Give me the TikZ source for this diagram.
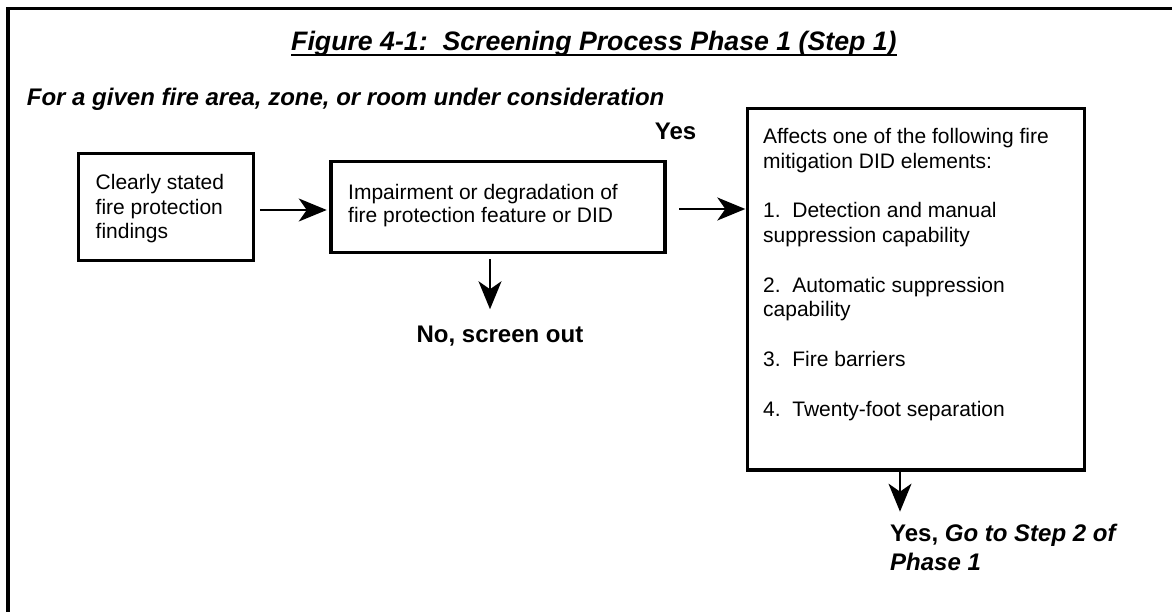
\documentclass[tikz,border=0pt]{standalone}
\usepackage{fontspec}
\setmainfont{Liberation Sans}
\usetikzlibrary{arrows.meta,calc}
\begin{document}
\begin{tikzpicture}[x=1pt,y=-1pt,
  bodytext/.style={align=left, inner sep=0pt, anchor=base west},
  lbl/.style={font=\fontsize{24}{28.3}\selectfont\bfseries, inner sep=0pt, anchor=base west},
  boxnode/.style={draw, line width=3.3pt, inner sep=0pt},
  flow/.style={line width=2pt, -{Stealth[length=28pt,width=23pt,inset=8pt]}}
]
\useasboundingbox (0,0) rectangle (1172,612);
\fill[white] (0,0) rectangle (1172,612);

% page frame, continuing past the right and bottom edges
\draw[line width=3.5pt, line join=miter] (8,640) -- (8,8.5) -- (1200,8.5);

% heading and scope line
\node[lbl, font=\fontsize{26.7}{30}\selectfont\bfseries\itshape] (title) at (291,50.5)
  {Figure 4-1:\ \ Screening Process Phase 1 (Step 1)};
\draw[line width=2.2pt] ([yshift=-4.5pt]title.base west) -- ([yshift=-4.5pt]title.base east);
\node[lbl, font=\fontsize{24}{28.3}\selectfont\bfseries\itshape] (scope) at (26.7,106)
  {For a given fire area, zone, or room under consideration};

% boxes
\node[boxnode, minimum width=175pt, minimum height=107.4pt] (b1) at (165.8,207) {};
\node[boxnode, minimum width=334pt, minimum height=90.6pt] (b2) at (498,207) {};
\node[boxnode, minimum width=336.7pt, minimum height=361.6pt] (b3) at (916,289.2) {};

% box texts (anchored at the baseline of their last line)
\node[bodytext, font=\fontsize{21}{24.2}\selectfont] (t1) at (95.5,238.4)
  {Clearly stated\\fire protection\\findings};
\node[bodytext, font=\fontsize{21}{23.4}\selectfont] (t2) at (348,222.7)
  {Impairment or degradation of\\fire protection feature or DID};
\node[bodytext, font=\fontsize{21}{24.8}\selectfont] (t3) at (763,416.1)
  {Affects one of the following fire\\mitigation DID elements:\\[24.8pt]
   1.\ \ Detection and manual\\suppression capability\\[24.8pt]
   2.\ \ Automatic suppression\\capability\\[24.8pt]
   3.\ \ Fire barriers\\[24.8pt]
   4.\ \ Twenty-foot separation};

% outcome labels
\node[lbl] (yes) at (654.7,140) {Yes};
\node[lbl] (no) at (416.4,342.7) {No, screen out};
\node[lbl, align=left] (go) at (890,570)
  {Yes, \textit{Go to Step 2 of}\\\textit{Phase 1}};

% connectors
\coordinate (r1) at (0,210);
\coordinate (r2) at (0,209);
\draw[flow] ([xshift=5pt]b1.east |- r1) -- ([xshift=-2.6pt]b2.west |- r1);
\draw[flow] ([xshift=12.7pt]b2.east |- r2) -- ([xshift=-0.7pt]b3.west |- r2);
\draw[flow] ($(b2.south)+(-8,5.3)$) -- ($(b2.south)+(-8,55.3)$);
\draw[flow] ($(b3.south)+(-16,0.3)$) -- ($(b3.south)+(-16,40)$);
\end{tikzpicture}
\end{document}
